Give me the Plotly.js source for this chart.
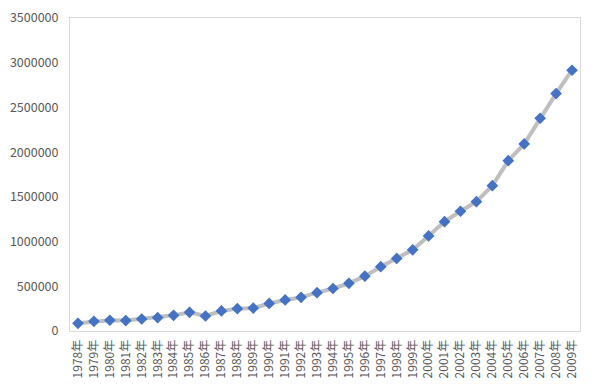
<!DOCTYPE html>
<html>
<head>
<meta charset="utf-8">
<script src="https://cdn.plot.ly/plotly-3.0.1.min.js"></script>
<style>html,body{margin:0;padding:0;background:#fff;}#chart{width:600px;height:385px;}</style>
</head>
<body>
<div id="chart"></div>
<script>
const years = ["1978年","1979年","1980年","1981年","1982年","1983年","1984年","1985年","1986年","1987年","1988年","1989年","1990年","1991年","1992年","1993年","1994年","1995年","1996年","1997年","1998年","1999年","2000年","2001年","2002年","2003年","2004年","2005年","2006年","2007年","2008年","2009年"];
const values = [86000,108000,120000,117000,134000,149000,175000,209000,168000,224000,250000,256000,308000,347000,376000,429000,475000,533000,613000,719000,811000,908000,1063000,1223000,1339000,1446000,1625000,1905000,2092000,2379000,2655000,2916000];
const yTicks = [0,500000,1000000,1500000,2000000,2500000,3000000,3500000];

const trace = {
  x: years,
  y: values,
  type: 'scatter',
  mode: 'lines+markers',
  line: {color: '#BFBFBF', width: 4},
  marker: {symbol: 'diamond', size: 9, color: '#4472C4'},
  hoverinfo: 'x+y'
};

const layout = {
  width: 600,
  height: 385,
  margin: {l: 70, r: 20, t: 18, b: 54},
  paper_bgcolor: '#ffffff',
  plot_bgcolor: '#ffffff',
  showlegend: false,
  font: {family: '"Noto Sans CJK SC", "Noto Sans", sans-serif', color: '#595959'},
  xaxis: {
    type: 'category',
    tickangle: -90,
    tickfont: {size: 12, color: '#595959'},
    showgrid: false,
    zeroline: false,
    showline: true,
    linecolor: '#D9D9D9',
    linewidth: 1,
    mirror: true,
    ticks: 'outside',
    ticklen: 3,
    tickcolor: 'rgba(0,0,0,0)',
    automargin: false,
    range: [-0.5, years.length - 0.5]
  },
  yaxis: {
    range: [0, 3500000],
    tickvals: yTicks,
    ticktext: yTicks.map(v => String(v)),
    tickfont: {size: 12.5, color: '#595959'},
    showgrid: false,
    zeroline: false,
    showline: true,
    linecolor: '#D9D9D9',
    linewidth: 1,
    mirror: true,
    ticks: 'outside',
    ticklen: 8,
    tickcolor: 'rgba(0,0,0,0)',
    automargin: false
  }
};

Plotly.newPlot('chart', [trace], layout, {staticPlot: true, displayModeBar: false});
</script>
</body>
</html>
